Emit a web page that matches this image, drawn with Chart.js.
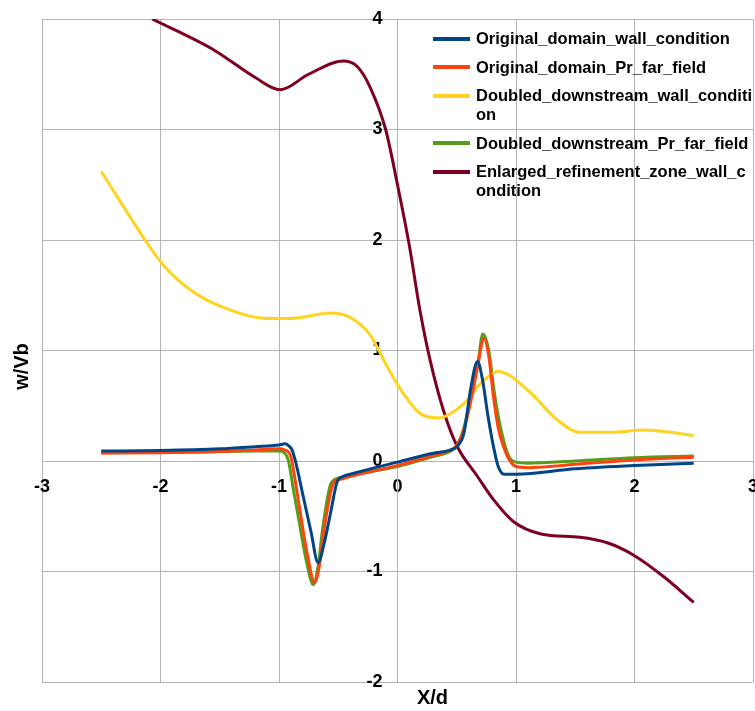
<!DOCTYPE html>
<html>
<head>
<meta charset="utf-8">
<script src="https://cdn.jsdelivr.net/npm/chart.js@4.4.1/dist/chart.umd.min.js"></script>
<style>
html, body { margin: 0; padding: 0; background: #fff; overflow: hidden; }
#wrap { position: relative; width: 755px; height: 711px; }
#legend { position: absolute; left: 433px; top: 29px; font: bold 16.5px "Liberation Sans", Arial, sans-serif; color: #000; }
.item { position: relative; padding-left: 43px; width: 278px; line-height: 19px; margin-bottom: 9.5px; word-break: break-all; }
.swatch { position: absolute; left: 0; top: 7.5px; width: 37px; height: 4px; }
</style>
</head>
<body>
<div id="wrap">
  <canvas id="chart" width="755" height="711"></canvas>
  <div id="legend"></div>
</div>
<script>
// series names and colours (LibreOffice default palette)
const seriesNames = [
    'Original_domain_wall_condition',
    'Original_domain_Pr_far_field',
    'Doubled_downstream_wall_condition',
    'Doubled_downstream_Pr_far_field',
    'Enlarged_refinement_zone_wall_condition'
];
const seriesColors = ['#004586', '#ff420e', '#ffd320', '#579d1c', '#7e0021'];

// values: [X/d, w/Vb]
const origWall = [
    [-2.5, 0.09], [-2.0, 0.095], [-1.5, 0.11], [-1.2, 0.13], [-1.0, 0.145], [-0.95, 0.155],
    [-0.92, 0.14], [-0.89, 0.1], [-0.85, -0.05], [-0.8, -0.3], [-0.73, -0.64], [-0.67, -0.92],
    [-0.62, -0.75], [-0.565, -0.47], [-0.51, -0.19], [-0.46, -0.14], [-0.4, -0.12], [0, -0.01],
    [0.3, 0.07], [0.45, 0.1], [0.5, 0.13], [0.56, 0.25], [0.62, 0.67], [0.675, 0.9],
    [0.72, 0.72], [0.76, 0.43], [0.81, 0.13], [0.85, -0.05], [0.9, -0.12], [1.0, -0.12],
    [1.5, -0.07], [2.0, -0.04], [2.5, -0.02]
];
const origFar = [
    [-2.5, 0.07], [-2.0, 0.075], [-1.5, 0.085], [-1.2, 0.1], [-1.0, 0.11], [-0.95, 0.1],
    [-0.9, 0.04], [-0.86, -0.2], [-0.82, -0.47], [-0.76, -0.85], [-0.7, -1.1], [-0.66, -0.95],
    [-0.62, -0.62], [-0.54, -0.2], [-0.46, -0.16], [-0.4, -0.14], [0, -0.04], [0.3, 0.05],
    [0.45, 0.1], [0.5, 0.14], [0.56, 0.28], [0.63, 0.6], [0.675, 0.85], [0.73, 1.11],
    [0.77, 0.95], [0.81, 0.58], [0.85, 0.3], [0.895, 0.13], [0.95, 0.0], [1.0, -0.05],
    [1.1, -0.06], [1.5, -0.03], [2.0, 0.01], [2.5, 0.035]
];
const doubledWall = [
    [-2.5, 2.62], [-2.13, 2.0], [-1.99, 1.79], [-1.75, 1.55], [-1.47, 1.39], [-1.1, 1.29],
    [-0.9, 1.29], [-0.565, 1.34], [-0.4, 1.3], [-0.23, 1.14], [-0.085, 0.85], [0.05, 0.61],
    [0.19, 0.43], [0.34, 0.39], [0.56, 0.52], [0.7, 0.7], [0.85, 0.81], [1.1, 0.64],
    [1.35, 0.37], [1.54, 0.26], [1.8, 0.26], [2.08, 0.28], [2.3, 0.26], [2.5, 0.23]
];
const doubledFar = [
    [-2.5, 0.08], [-2.0, 0.08], [-1.5, 0.085], [-1.2, 0.09], [-1.0, 0.09], [-0.96, 0.08],
    [-0.92, 0.0], [-0.88, -0.25], [-0.83, -0.55], [-0.77, -0.9], [-0.71, -1.12], [-0.67, -0.95],
    [-0.63, -0.6], [-0.56, -0.2], [-0.48, -0.15], [-0.4, -0.13], [0, -0.05], [0.3, 0.04],
    [0.45, 0.09], [0.5, 0.14], [0.56, 0.3], [0.63, 0.65], [0.68, 0.9], [0.72, 1.15],
    [0.77, 1.0], [0.82, 0.6], [0.87, 0.3], [0.94, 0.04], [1.0, -0.01], [1.1, -0.02],
    [1.5, 0.0], [2.0, 0.03], [2.5, 0.045]
];
const enlargedWall = [
    [-2.07, 4.0], [-1.55, 3.72], [-1.2, 3.47], [-0.99, 3.36], [-0.75, 3.5], [-0.46, 3.62],
    [-0.34, 3.57], [-0.23, 3.38], [-0.1, 3.0], [0.0, 2.5], [0.1, 1.95], [0.19, 1.36],
    [0.28, 0.89], [0.39, 0.45], [0.5, 0.14], [0.675, -0.14], [0.81, -0.35], [0.98, -0.55],
    [1.21, -0.66], [1.54, -0.69], [1.77, -0.74], [1.99, -0.85], [2.25, -1.05], [2.5, -1.28]
];
const allSeries = [origWall, origFar, doubledWall, doubledFar, enlargedWall];

const tickFont = { family: '"Liberation Sans", Arial, sans-serif', size: 18, weight: 'bold' };

// axis titles sit at the edges, not next to the crossing axes
const axisTitles = {
    id: 'axisTitles',
    afterDraw(chart) {
        const { ctx, chartArea } = chart;
        ctx.save();
        ctx.font = 'bold 20px "Liberation Sans", Arial, sans-serif';
        ctx.fillStyle = '#000';
        ctx.textAlign = 'center';
        ctx.textBaseline = 'middle';
        ctx.fillText('X/d', (chartArea.left + chartArea.right) / 2 + 35, chartArea.bottom + 16);
        ctx.translate(22, (chartArea.top + chartArea.bottom) / 2 + 16);
        ctx.rotate(-Math.PI / 2);
        ctx.fillText('w/Vb', 0, 0);
        ctx.restore();
    }
};

const ctx = document.getElementById('chart').getContext('2d');
const chart = new Chart(ctx, {
    type: 'line',
    data: {
        datasets: allSeries.map((pts, i) => ({
            label: seriesNames[i],
            data: pts.map(p => ({ x: p[0], y: p[1] })),
            borderColor: seriesColors[i],
            backgroundColor: seriesColors[i],
            borderWidth: 3,
            pointRadius: 0,
            fill: false,
            cubicInterpolationMode: 'monotone',
            borderJoinStyle: 'round'
        }))
    },
    options: {
        responsive: false,
        animation: false,
        layout: { padding: { left: 42, right: 2, top: 19, bottom: 29 } },
        plugins: {
            legend: { display: false },
            tooltip: { enabled: false }
        },
        scales: {
            x: {
                type: 'linear',
                position: { y: 0 },
                min: -3,
                max: 3,
                ticks: { stepSize: 1, padding: 15, color: '#000', font: tickFont },
                grid: { color: '#b3b3b3', drawTicks: false },
                border: { color: '#b3b3b3' },
                afterFit(scale) { scale.paddingLeft = 0; scale.paddingRight = 0; }
            },
            y: {
                type: 'linear',
                position: { x: 0 },
                min: -2,
                max: 4,
                // labels sit left of the crossing axis; trailing spaces give the gap
                ticks: { stepSize: 1, color: '#000', font: tickFont, callback: v => v + '   ' },
                grid: { color: '#b3b3b3', drawTicks: false },
                border: { color: '#b3b3b3' },
                afterFit(scale) { scale.paddingTop = 0; scale.paddingBottom = 0; }
            }
        }
    },
    plugins: [axisTitles]
});

// legend as html so long names wrap like the original
const legend = document.getElementById('legend');
seriesNames.forEach((name, i) => {
    const item = document.createElement('div');
    item.className = 'item';
    const sw = document.createElement('span');
    sw.className = 'swatch';
    sw.style.background = seriesColors[i];
    item.appendChild(sw);
    item.appendChild(document.createTextNode(name));
    legend.appendChild(item);
});
</script>
</body>
</html>
